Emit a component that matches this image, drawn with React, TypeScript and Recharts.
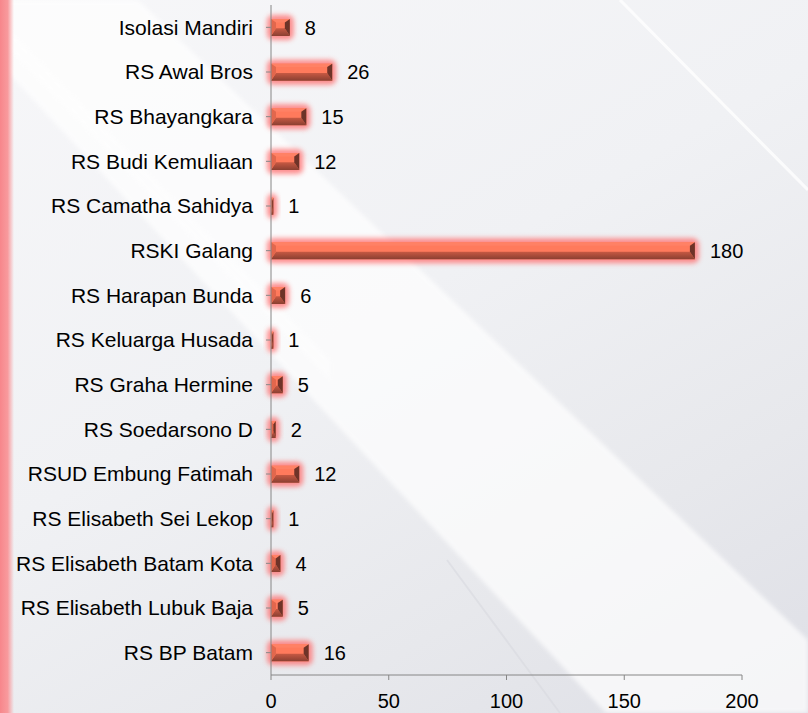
import React from "react";
import { BarChart, Bar, XAxis, YAxis, LabelList } from "recharts";

const hospitals = [
  "Isolasi Mandiri",
  "RS Awal Bros",
  "RS Bhayangkara",
  "RS Budi Kemuliaan",
  "RS Camatha Sahidya",
  "RSKI Galang",
  "RS Harapan Bunda",
  "RS Keluarga Husada",
  "RS Graha Hermine",
  "RS Soedarsono D",
  "RSUD Embung Fatimah",
  "RS Elisabeth Sei Lekop",
  "RS Elisabeth Batam Kota",
  "RS Elisabeth Lubuk Baja",
  "RS BP Batam",
];
const patients = [8, 26, 15, 12, 1, 180, 6, 1, 5, 2, 12, 1, 4, 5, 16];
const xTicks = [0, 50, 100, 150, 200];

const data = hospitals.map((name, i) => ({ name, value: patients[i] }));

const FONT = "'Liberation Sans', Arial, sans-serif";

// beveled bar with soft red glow
const BevelBar = (props: any) => {
  const { x, y, width, height } = props;
  if (width <= 0) return null;
  const w = width;
  const h = height;
  const bx = Math.min(5, w / 2);
  const bt = h * 0.2;
  const bb = h * 0.45;
  return (
    <g>
      <rect x={x - 4} y={y - 4} width={w + 8} height={h + 8} rx={6} fill="#ff6a6a" opacity={0.75} filter="url(#glow)" />
      <rect x={x} y={y} width={w} height={h} fill="#ff7a5c" />
      <polygon points={`${x},${y} ${x + w},${y} ${x + w - bx},${y + bt} ${x + bx},${y + bt}`} fill="#ff8165" />
      <polygon points={`${x},${y + h} ${x + w},${y + h} ${x + w - bx},${y + h - bb} ${x + bx},${y + h - bb}`} fill="url(#bevelBottom)" />
      <polygon points={`${x},${y} ${x + bx},${y + bt} ${x + bx},${y + h - bb} ${x},${y + h}`} fill="#e2674d" />
      <polygon points={`${x + w},${y} ${x + w - bx},${y + bt} ${x + w - bx},${y + h - bb} ${x + w},${y + h}`} fill="#6e3328" />
    </g>
  );
};

export default function App() {
  return (
    <div
      style={{
        position: "fixed",
        left: 0,
        top: 0,
        width: 808,
        height: 713,
        overflow: "hidden",
        background: "linear-gradient(150deg, #f7f7f9 0%, #f0f1f4 45%, #e7e8ec 75%, #dedfe6 100%)",
      }}
    >
      {/* backdrop streaks */}
      <svg width={808} height={713} style={{ position: "absolute", left: 0, top: 0 }}>
        <defs>
          <filter id="soft">
            <feGaussianBlur stdDeviation="2" />
          </filter>
          <linearGradient id="leftStripe" x1="0" x2="1" y1="0" y2="0">
            <stop offset="0" stopColor="#f7868b" />
            <stop offset="0.55" stopColor="#f89a9d" />
            <stop offset="1" stopColor="#f89a9d" stopOpacity={0} />
          </linearGradient>
        </defs>
        <polygon points="138,0 808,640 808,713 606,713 -60,0" fill="#ffffff" opacity={0.7} filter="url(#soft)" />
        <polygon points="0,20 330,360 330,380 0,40" fill="#ffffff" opacity={0.45} filter="url(#soft)" />
        <line x1={620} y1={0} x2={808} y2={190} stroke="#ffffff" strokeWidth={3} opacity={0.8} />
        <line x1={447} y1={560} x2={560} y2={713} stroke="#d9dae0" strokeWidth={2} opacity={0.6} />
        <rect x={0} y={0} width={14} height={713} fill="url(#leftStripe)" />
      </svg>
      <div style={{ position: "absolute", left: 0, top: 0 }}>
        <BarChart
          width={808}
          height={713}
          data={data}
          layout="vertical"
          margin={{ top: 5, right: 66, bottom: 0, left: 0 }}
          barSize={17}
        >
          <defs>
            <filter id="glow" x="-30%" y="-80%" width="160%" height="260%">
              <feGaussianBlur stdDeviation="2.5" />
            </filter>
            <linearGradient id="bevelBottom" x1="0" x2="0" y1="0" y2="1">
              <stop offset="0" stopColor="#c75943" />
              <stop offset="1" stopColor="#8a3f31" />
            </linearGradient>
          </defs>
          <XAxis
            type="number"
            domain={[0, 200]}
            ticks={xTicks}
            height={38}
            stroke="#868686"
            tickSize={5}
            tick={{ fill: "#000", fontSize: 20, fontFamily: FONT }}
            tickMargin={14}
          />
          <YAxis
            type="category"
            dataKey="name"
            width={271}
            stroke="#868686"
            tickSize={5}
            tickMargin={13}
            interval={0}
            tick={{ fill: "#000", fontSize: 21, fontFamily: FONT }}
          />
          <Bar dataKey="value" shape={<BevelBar />} isAnimationActive={false}>
            <LabelList
              dataKey="value"
              position="right"
              offset={15}
              fill="#000"
              fontSize={20}
              fontFamily={FONT}
            />
          </Bar>
        </BarChart>
      </div>
    </div>
  );
}
